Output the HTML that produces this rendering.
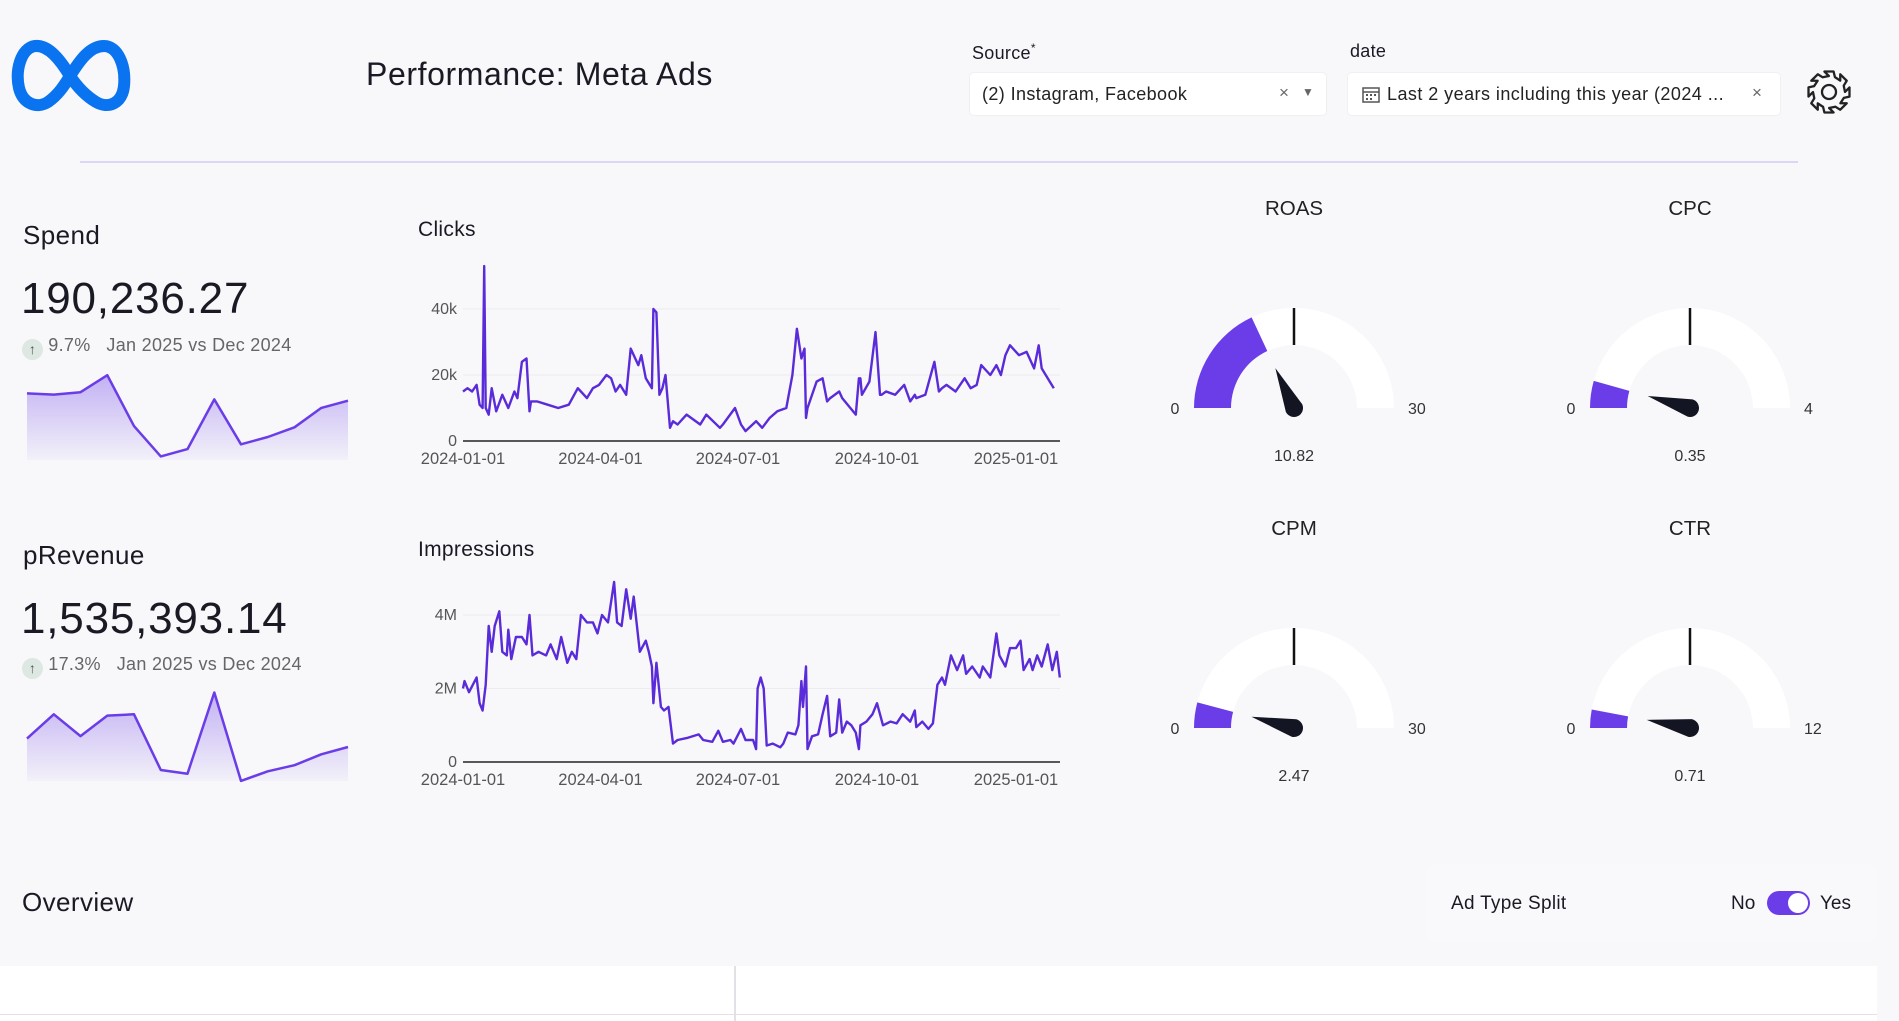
<!DOCTYPE html>
<html><head><meta charset="utf-8">
<style>
*{box-sizing:border-box;margin:0;padding:0}
body{width:1899px;height:1021px;background:#f8f8fa;font-family:"Liberation Sans",sans-serif;color:#1a1a24;position:relative;overflow:hidden}
.a{position:absolute;white-space:nowrap}
.box{position:absolute;background:#fff;border-radius:4px;box-shadow:0 0 0 1px #f0f0f3}
</style></head><body>
<svg class="a" style="left:0;top:0" width="140" height="130">
<path d="M70,76 C58,56 47,45 35,46 C21,48 15,70 19,88 C23,104 37,109 48,102 C58,95 64,86 70,76 C80,60 90,46 104,46 C118,46 126,66 124,86 C122,104 108,109 96,102 C86,96 78,88 70,76 Z" fill="none" stroke="#0a74f0" stroke-width="12"/>
</svg>
<div class="a" style="left:366px;top:56px;font-size:32px;letter-spacing:0.6px">Performance: Meta Ads</div>
<div class="a" style="left:972px;top:41px;font-size:18px;letter-spacing:0.3px">Source<sup style="font-size:12px">*</sup></div>
<div class="box" style="left:970px;top:73px;width:356px;height:42px">
<span class="a" style="left:12px;top:11px;font-size:18px;color:#222;letter-spacing:0.4px">(2) Instagram, Facebook</span>
<span class="a" style="left:309px;top:10px;font-size:17px;color:#666">×</span>
<span class="a" style="left:332px;top:12px;font-size:12px;color:#666">▼</span></div>
<div class="a" style="left:1350px;top:41px;font-size:18px;letter-spacing:0.3px">date</div>
<div class="box" style="left:1348px;top:73px;width:432px;height:42px">
<svg class="a" style="left:14px;top:13px" width="18" height="17"><rect x="1" y="2" width="16" height="14" fill="none" stroke="#555" stroke-width="1.5"/><line x1="1" y1="6" x2="17" y2="6" stroke="#555" stroke-width="1.5"/><g fill="#555"><rect x="4" y="8" width="2" height="2"/><rect x="8" y="8" width="2" height="2"/><rect x="12" y="8" width="2" height="2"/><rect x="4" y="12" width="2" height="2"/><rect x="8" y="12" width="2" height="2"/></g></svg>
<span class="a" style="left:39px;top:11px;font-size:18px;color:#222;letter-spacing:0.45px">Last 2 years including this year (2024 ...</span>
<span class="a" style="left:404px;top:10px;font-size:17px;color:#666">×</span></div>
<svg class="a" style="left:1805px;top:68px" width="48" height="48" id="gear"></svg>
<div class="a" style="left:80px;top:161px;width:1718px;height:2px;background:#d9d6f6"></div>

<div class="a" style="left:23px;top:220px;font-size:26px;letter-spacing:0.4px">Spend</div>
<div class="a" style="left:21px;top:274px;font-size:44px;font-weight:500;letter-spacing:0.8px">190,236.27</div>
<div class="a" style="left:22px;top:335px;font-size:18px;color:#666;letter-spacing:0.3px"><span style="display:inline-block;width:21px;height:21px;border-radius:50%;background:#dde8e2;color:#555;text-align:center;font-size:14px;line-height:21px;vertical-align:-3px">↑</span>&nbsp;9.7%&nbsp;&nbsp; Jan 2025 vs Dec 2024</div>
<div class="a" style="left:23px;top:540px;font-size:26px;letter-spacing:0.4px">pRevenue</div>
<div class="a" style="left:21px;top:594px;font-size:44px;font-weight:500;letter-spacing:0.8px">1,535,393.14</div>
<div class="a" style="left:22px;top:654px;font-size:18px;color:#666;letter-spacing:0.3px"><span style="display:inline-block;width:21px;height:21px;border-radius:50%;background:#dde8e2;color:#555;text-align:center;font-size:14px;line-height:21px;vertical-align:-3px">↑</span>&nbsp;17.3%&nbsp;&nbsp; Jan 2025 vs Dec 2024</div>

<div class="a" style="left:418px;top:218px;font-size:21px;letter-spacing:0.3px">Clicks</div>
<div class="a" style="left:418px;top:538px;font-size:21px;letter-spacing:0.3px">Impressions</div>

<div class="a" style="left:22px;top:887px;font-size:26px;font-weight:500;letter-spacing:0.4px">Overview</div>
<div class="a" style="left:1426px;top:863px;width:451px;height:79px;background:#f9f9fc;border-radius:10px">
<span class="a" style="left:25px;top:30px;font-size:19px;letter-spacing:0.3px">Ad Type Split</span>
<span class="a" style="left:305px;top:30px;font-size:19px">No</span>
<div class="a" style="left:341px;top:28px;width:43px;height:24px;border-radius:12px;background:#6a3de8"><div class="a" style="left:21px;top:2px;width:20px;height:20px;border-radius:50%;background:#fff"></div></div>
<span class="a" style="left:394px;top:30px;font-size:19px">Yes</span></div>
<div class="a" style="left:0;top:966px;width:1877px;height:55px;background:#fff"></div>
<div class="a" style="left:734px;top:966px;width:2px;height:55px;background:#e2e2e6"></div>
<div class="a" style="left:0;top:1014px;width:1877px;height:1px;background:#e2e2e6"></div>

<svg class="a" id="charts" style="left:0;top:0" width="1899" height="1021"></svg>

<script>
const clickDays=[0,3,6,9,11,13,14,15,17,19,22,26,30,34,36,39,42,44,45,49,56,63,70,76,78,82,86,90,95,98,101,104,108,111,116,118,121,125,126,128,130,132,134,137,139,142,148,157,161,170,172,180,184,187,194,198,203,208,214,218,221,224,226,227,228,234,238,241,243,249,251,260,262,263,264,269,273,276,277,280,286,292,296,299,300,306,312,315,317,320,326,332,336,340,343,349,353,356,359,362,368,373,378,381,383,387,391,394,395];
const clickVals=[15,16,15,17,11,10,53,10,8,16,9,14,10,15,13,24,25,9,12,12,11,10,11,16,15,13,16,17,20,19,15,17,14,28,23,26,19,16,40,39,14,16,20,4,6,5,8,5,8,4,5,10,5,3,6,4,7,9,10,20,34,25,28,7,10,18,19,12,13,15,13,8,19,19,14,18,33,14,14,15,14,17,12,14,13,14,24,15,16,17,15,19,16,17,23,20,23,20,26,29,26,27,22,29,22,19,16];
const impDays=[0,1,4,9,11,13,15,17,19,21,24,26,29,30,32,35,39,42,44,46,50,55,58,62,65,69,72,75,78,82,86,89,92,96,100,102,105,108,111,113,117,121,123,125,126,128,131,133,136,139,142,148,156,159,165,169,172,177,179,184,187,192,194,195,197,199,201,205,210,212,215,220,222,224,225,227,228,231,235,238,241,243,247,249,251,254,257,260,262,263,267,271,274,278,283,287,291,296,299,300,304,308,311,314,317,319,323,327,331,333,337,342,344,349,353,355,359,362,366,369,371,375,377,380,383,387,390,393,395];
const impVals=[2.0,2.2,1.9,2.3,1.6,1.4,2.1,3.7,3.0,3.7,4.1,3.0,2.9,3.6,2.8,3.4,3.4,3.2,4.0,2.9,3.0,2.9,3.2,2.8,3.4,2.7,3.0,2.8,4.0,3.8,3.8,3.5,4.0,3.8,4.9,3.8,3.7,4.7,3.9,4.5,3.0,3.3,3.0,2.6,1.6,2.7,1.5,1.4,1.5,0.5,0.6,0.65,0.75,0.6,0.55,0.85,0.55,0.6,0.5,0.9,0.6,0.6,0.35,2.0,2.3,2.0,0.45,0.5,0.4,0.5,0.8,0.75,1.0,2.2,1.5,2.6,0.35,0.7,0.75,1.3,1.8,0.7,0.8,1.7,0.8,1.1,1.0,0.8,0.35,1.0,1.1,1.3,1.6,1.0,1.1,1.05,1.3,1.1,1.4,0.95,1.1,0.9,1.05,2.1,2.3,2.1,2.9,2.5,2.9,2.4,2.6,2.3,2.6,2.3,3.5,2.9,2.6,3.1,3.1,3.3,2.5,2.8,2.5,2.9,2.6,3.2,2.5,3.0,2.3];
const xTickDays=[0,91,182,274,366];
const xTickLabels=["2024-01-01","2024-04-01","2024-07-01","2024-10-01","2025-01-01"];
const clickTicks=[0,20,40];const clickTickLabels=["0","20k","40k"];
const impTicks=[0,2,4];const impTickLabels=["0","2M","4M"];
const spendSpark=[55,54,56,70,28,3,9,50,13,19,27,43,49];
const revSpark=[40,60,42,59,60,14,11,78,5,13,18,27,33];
const gaugeNames=["ROAS","CPC","CPM","CTR"];
const gaugeValues=[10.82,0.35,2.47,0.71];
const gaugeMax=[30,4,30,12];
const gaugeLabels=["10.82","0.35","2.47","0.71"];

const NS="http://www.w3.org/2000/svg";
const svg=document.getElementById('charts');
function mk(tag,attrs,parent){const e=document.createElementNS(NS,tag);for(const k in attrs)e.setAttribute(k,attrs[k]);(parent||svg).appendChild(e);return e;}
function txt(x,y,s,attrs){const t=mk('text',Object.assign({x:x,y:y,'font-family':'Liberation Sans, sans-serif'},attrs));t.textContent=s;return t;}

const defs=mk('defs',{});
const lg=mk('linearGradient',{id:'sg',x1:0,y1:0,x2:0,y2:1},defs);
mk('stop',{offset:'0','stop-color':'#6a3de8','stop-opacity':'0.38'},lg);
mk('stop',{offset:'1','stop-color':'#6a3de8','stop-opacity':'0.04'},lg);

function lineChart(name,days,vals,ticks,tickLabels,y0,pxPerUnit){
  const xs=d=>463+d*(1016-463)/366;
  const ys=v=>y0-v*pxPerUnit;
  const g=mk('g',{});
  
  
  ticks.forEach((t,i)=>{
    if(t>0){const gl=mk('line',{x1:463,x2:1060,y1:ys(t),y2:ys(t),stroke:'#ebebf0','stroke-width':1},g);
      }
    const tl=txt(457,ys(t)+5,tickLabels[i],{'font-size':16,fill:'#555','text-anchor':'end'});g.appendChild(tl);
    
  });
  const ax=mk('line',{x1:463,x2:1060,y1:y0,y2:y0,stroke:'#222','stroke-width':1.5},g);
  
  xTickDays.forEach((d,i)=>{
    const tl=txt(xs(d),y0+23,xTickLabels[i],{'font-size':16.5,fill:'#555','text-anchor':'middle'});g.appendChild(tl);
    
  });
  let p='';days.forEach((d,i)=>{p+=(i?'L':'M')+xs(d).toFixed(1)+','+ys(vals[i]).toFixed(1);});
  const ln=mk('path',{d:p,fill:'none',stroke:'#5a2bd8','stroke-width':2.4,'stroke-linejoin':'round'},g);
  
}
lineChart('clicks',clickDays,clickVals,clickTicks,clickTickLabels,441,3.3);
lineChart('impressions',impDays,impVals,impTicks,impTickLabels,762,36.75);

function spark(name,vals,x0,x1,yb,fillBottom){
  const xs=i=>x0+i*(x1-x0)/(vals.length-1);
  const ys=v=>yb-v*1.211;
  let p='';vals.forEach((v,i)=>{p+=(i?'L':'M')+xs(i).toFixed(1)+','+ys(v).toFixed(1);});
  const ar=mk('path',{d:p+'L'+x1+','+fillBottom+'L'+x0+','+fillBottom+'Z',fill:'url(#sg)'});
  
  const ln=mk('path',{d:p,fill:'none',stroke:'#6a3de8','stroke-width':2.5,'stroke-linejoin':'round'});
  
}
spark('spend',spendSpark,27,348,460,460);
spark('prevenue',revSpark,27,348,787,781);

const centers=[[1294,408],[1690,408],[1294,728],[1690,728]];
function arc(cx,cy,r0,r1,a0,a1){
  const P=(r,a)=>[cx+r*Math.cos(a),cy-r*Math.sin(a)];
  const [x1,y1]=P(r1,a0),[x2,y2]=P(r1,a1),[x3,y3]=P(r0,a1),[x4,y4]=P(r0,a0);
  return `M${x1},${y1}A${r1},${r1} 0 0 1 ${x2},${y2}L${x3},${y3}A${r0},${r0} 0 0 0 ${x4},${y4}Z`;
}
gaugeNames.forEach((n,i)=>{
  const [cx,cy]=centers[i];const key=n.toLowerCase();
  const g=mk('g',{});
  
  const t=txt(cx,cy-193,n,{'font-size':20.5,fill:'#222','text-anchor':'middle'});g.appendChild(t);
  const bg=mk('path',{d:arc(cx,cy,63,100,Math.PI,0),fill:'#fff'},g);
  
  const a=Math.PI*(1-gaugeValues[i]/gaugeMax[i]);
  const fl=mk('path',{d:arc(cx,cy,63,100,Math.PI,a),fill:'#6a3de8'},g);
  
  const tk=mk('line',{x1:cx,x2:cx,y1:cy-100,y2:cy-63,stroke:'#111','stroke-width':2.5},g);
  
  const tip=[cx+44*Math.cos(a),cy-44*Math.sin(a)];
  const b1=[cx+9*Math.cos(a+Math.PI/2),cy-9*Math.sin(a+Math.PI/2)];
  const b2=[cx+9*Math.cos(a-Math.PI/2),cy-9*Math.sin(a-Math.PI/2)];
  const nd=mk('path',{d:`M${tip}L${b1}A9,9 0 1 0 ${b2}Z`,fill:'#131522'},g);
  
  g.appendChild(txt(cx-119,cy+6,'0',{'font-size':16,fill:'#333','text-anchor':'middle'}));
  g.appendChild(txt(cx+114,cy+6,String(gaugeMax[i]),{'font-size':16,fill:'#333'}));
  const vl=txt(cx,cy+53,gaugeLabels[i],{'font-size':16,fill:'#333','text-anchor':'middle'});g.appendChild(vl);
  
});

// gear
const gear=document.getElementById('gear');
let d='';const N=8;
for(let k=0;k<N*4;k++){const seg=k%4;const base=Math.floor(k/4)*2*Math.PI/N;
  const offs=[-0.22,0.22,0.38,0.78][seg];const r=[21,21,16,16][seg];
  const ang=base+offs;d+=(k?'L':'M')+(24+r*Math.cos(ang)).toFixed(2)+','+(24+r*Math.sin(ang)).toFixed(2);}
const gpth=document.createElementNS(NS,'path');gpth.setAttribute('d',d+'Z');gpth.setAttribute('fill','none');gpth.setAttribute('stroke','#222');gpth.setAttribute('stroke-width','2.3');gpth.setAttribute('stroke-linejoin','round');gear.appendChild(gpth);
const gc=document.createElementNS(NS,'circle');gc.setAttribute('cx',24);gc.setAttribute('cy',24);gc.setAttribute('r',7);gc.setAttribute('fill','none');gc.setAttribute('stroke','#222');gc.setAttribute('stroke-width','2.3');gear.appendChild(gc);
</script>
</body></html>
